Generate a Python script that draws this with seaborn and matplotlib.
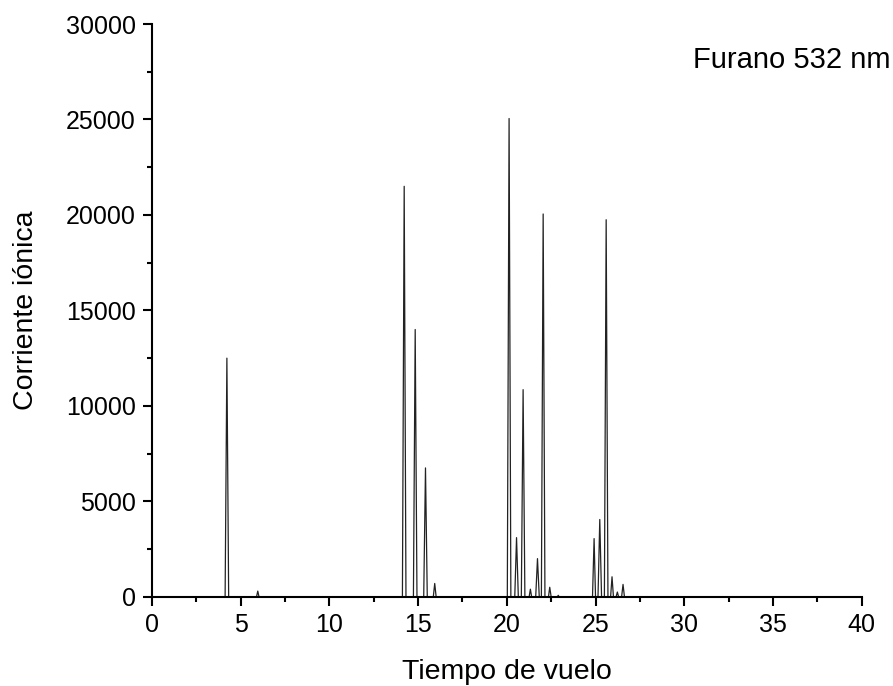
#!/usr/bin/env python3

import numpy as np
import pandas as pd
import matplotlib
matplotlib.use("Agg")
import matplotlib.pyplot as plt
from matplotlib.ticker import MultipleLocator
import seaborn as sns

# time-of-flight trace (baseline, apex, baseline per peak)
tiempo = [0.0,
          4.13, 4.23, 4.33,
          5.90, 5.97, 6.04,
          14.12, 14.22, 14.32,
          14.74, 14.84, 14.94,
          15.32, 15.42, 15.52,
          15.86, 15.94, 16.02,
          20.03, 20.13, 20.23,
          20.45, 20.55, 20.65,
          20.82, 20.92, 21.02,
          21.26, 21.33, 21.40,
          21.63, 21.73, 21.83,
          21.95, 22.05, 22.15,
          22.35, 22.42, 22.50,
          22.85, 22.90, 22.95,
          24.83, 24.92, 25.00,
          25.14, 25.24, 25.34,
          25.50, 25.60, 25.70,
          25.85, 25.93, 26.01,
          26.16, 26.23, 26.30,
          26.47, 26.55, 26.63,
          27.0]
corriente = [0,
             0, 12500, 0,
             0, 300, 0,
             0, 21500, 0,
             0, 14000, 0,
             0, 6750, 0,
             0, 700, 0,
             0, 25050, 0,
             0, 3100, 0,
             0, 10850, 0,
             0, 400, 0,
             0, 2000, 0,
             0, 20050, 0,
             0, 500, 0,
             0, 80, 0,
             0, 3050, 0,
             0, 4050, 0,
             0, 19750, 0,
             0, 1050, 0,
             0, 250, 0,
             0, 650, 0,
             0]

titulo = "Furano 532 nm"
xlabel = "Tiempo de vuelo"
ylabel = "Corriente iónica"


def main():
    sns.set_style("ticks")
    plt.rcParams['font.family'] = ['Liberation Sans', 'DejaVu Sans']
    plt.rcParams['text.color'] = 'black'
    plt.rcParams['axes.labelcolor'] = 'black'

    df = pd.DataFrame({'t': tiempo, 'i': corriente})

    fig = plt.figure(figsize=(8.93, 6.86), dpi=100)
    ax = fig.add_axes([0.170, 0.130, 0.795, 0.835])

    sns.lineplot(data=df, x='t', y='i', estimator=None, sort=False,
                 color='#222222', linewidth=0.9, ax=ax)

    ax.set_xlim(0, 40)
    ax.set_ylim(0, 30000)
    ax.xaxis.set_major_locator(MultipleLocator(5))
    ax.xaxis.set_minor_locator(MultipleLocator(2.5))
    ax.yaxis.set_major_locator(MultipleLocator(5000))
    ax.yaxis.set_minor_locator(MultipleLocator(2500))

    sns.despine(ax=ax)
    for s in ['left', 'bottom']:
        ax.spines[s].set_linewidth(1.5)
        ax.spines[s].set_color('black')
    ax.tick_params(which='major', direction='out', length=6.5, width=1.5,
                   labelsize=18, colors='black', pad=5)
    ax.tick_params(which='minor', direction='out', length=3.5, width=1.5,
                   colors='black')

    ax.set_xlabel(xlabel, fontsize=20.5)
    ax.set_ylabel(ylabel, fontsize=20.5)
    ax.xaxis.set_label_coords(0.5, -0.109)
    ax.yaxis.set_label_coords(-0.159, 0.5)

    ax.text(30.5, 28100, titulo, fontsize=21, ha='left', va='center')

    plt.savefig('out.png', dpi=100)
    plt.close()


if __name__ == "__main__":
    main()
